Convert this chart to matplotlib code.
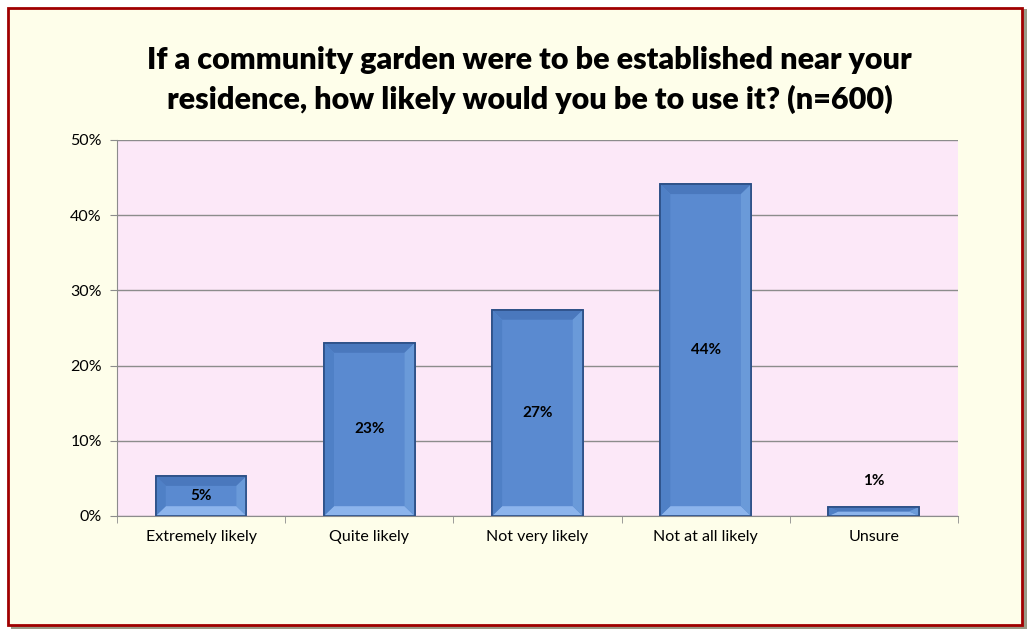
import numpy as np
import matplotlib.pyplot as plt
from matplotlib.patches import Rectangle, Polygon

# data
categories = ['Extremely likely', 'Quite likely', 'Not very likely', 'Not at all likely', 'Unsure']
values = [5.3, 23.0, 27.4, 44.1, 1.2]
labels = ['5%', '23%', '27%', '44%', '1%']
yticks = [0, 10, 20, 30, 40, 50]

plt.rcParams['font.family'] = ['Lato', 'DejaVu Sans']

fig = plt.figure(figsize=(10.28, 6.31), dpi=100)
fig.patch.set_facecolor('white')

# chart frame: shadow + cream box with dark red border
fig.patches.append(Rectangle((0.011, 0.003), 0.988, 0.982, transform=fig.transFigure,
                             facecolor='#9a9a86', edgecolor='none', zorder=0))
fig.patches.append(Rectangle((0.008, 0.009), 0.986, 0.978, transform=fig.transFigure,
                             facecolor='#fefeea', edgecolor='#a00000', linewidth=2, zorder=1))

ax = fig.add_axes([0.1138, 0.1823, 0.818, 0.5959])
ax.set_facecolor('#fce8f8')
ax.set_zorder(2)

x = np.arange(len(categories))
w = 0.54
bars = ax.bar(x, values, width=w, color='#5a8ad0', edgecolor='#2c4f86', linewidth=1.2, zorder=3)

# simple bevel look on each bar
bx = 0.06
for xi, v in zip(x, values):
    by = min(1.3, v / 2)
    l, r = xi - w / 2, xi + w / 2
    ax.add_patch(Polygon([(l, 0), (r, 0), (r - bx, by), (l + bx, by)],
                         closed=True, facecolor='#8cb4ec', edgecolor='none', zorder=4))
    ax.add_patch(Polygon([(l, v), (r, v), (r - bx, v - by), (l + bx, v - by)],
                         closed=True, facecolor='#4a78bd', edgecolor='none', zorder=4))
    ax.add_patch(Polygon([(r, 0), (r, v), (r - bx, v - by), (r - bx, by)],
                         closed=True, facecolor='#6a9ad9', edgecolor='none', zorder=4))
    ax.add_patch(Polygon([(l, 0), (l, v), (l + bx, v - by), (l + bx, by)],
                         closed=True, facecolor='#4f80c6', edgecolor='none', zorder=4))
    ax.add_patch(Rectangle((l, 0), w, v, facecolor='none', edgecolor='#2c4f86',
                           linewidth=1.2, zorder=5))

for xi, v, t in zip(x, values, labels):
    if v > 3:
        ax.text(xi, v / 2, t, ha='center', va='center', fontsize=11, fontweight='bold', zorder=6)
    else:
        ax.text(xi, v + 3.5, t, ha='center', va='center', fontsize=11, fontweight='bold', zorder=6)

ax.set_xlim(-0.5, len(categories) - 0.5)
ax.set_ylim(0, 50)
ax.set_yticks(yticks)
ax.set_yticklabels([f'{t}%' for t in yticks], fontsize=11.5)
ax.yaxis.grid(True, color='#8c8c8c', linewidth=1)
ax.set_axisbelow(True)

ax.set_xticks(x)
ax.set_xticklabels(categories, fontsize=11.5)
ax.tick_params(axis='x', length=0, pad=10)
ax.set_xticks(np.arange(len(categories) + 1) - 0.5, minor=True)
ax.tick_params(axis='x', which='minor', length=5, color='#8c8c8c', direction='out')
ax.tick_params(axis='y', length=5, color='#8c8c8c', direction='out', pad=6)

for s in ['top', 'right']:
    ax.spines[s].set_visible(False)
ax.spines['left'].set_color('#8c8c8c')
ax.spines['bottom'].set_color('#8c8c8c')

fig.text(0.515, 0.873, 'If a community garden were to be established near your\n'
         'residence, how likely would you be to use it? (n=600)',
         ha='center', va='center', fontsize=22, fontweight='heavy', linespacing=1.45, zorder=3)

fig.savefig('out.png', dpi=100, facecolor=fig.get_facecolor())
